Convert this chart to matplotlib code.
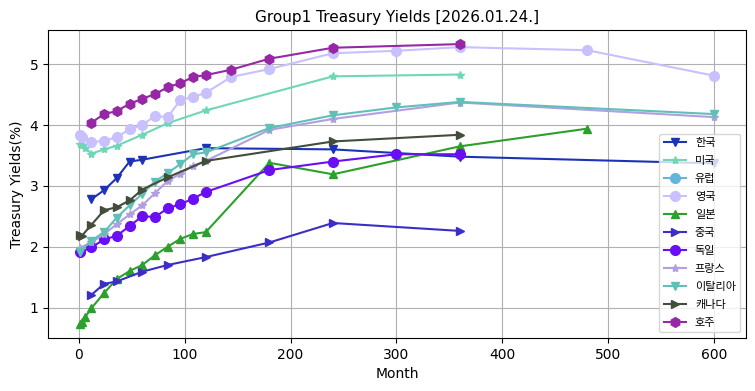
import matplotlib
matplotlib.use("Agg")
import matplotlib.pyplot as plt

plt.rcParams['font.family'] = ['DejaVu Sans', 'Noto Sans CJK KR']
plt.rcParams['axes.unicode_minus'] = False

labels = ['한국', '미국', '유럽', '영국', '일본', '중국', '독일', '프랑스', '이탈리아', '캐나다', '호주']

korea_m = [12, 24, 36, 48, 60, 120, 240, 360, 600]
korea_y = [2.78, 2.93, 3.13, 3.40, 3.43, 3.62, 3.60, 3.48, 3.37]

us_m = [1, 3, 6, 12, 24, 36, 60, 84, 120, 240, 360]
us_y = [3.69, 3.68, 3.63, 3.53, 3.60, 3.66, 3.84, 4.03, 4.24, 4.80, 4.83]

europe_m = []
europe_y = []

uk_m = [1, 3, 12, 24, 36, 48, 60, 72, 84, 96, 108, 120, 144, 180, 240, 300, 360, 480, 600]
uk_y = [3.83, 3.81, 3.72, 3.74, 3.80, 3.93, 4.00, 4.15, 4.13, 4.41, 4.46, 4.53, 4.79, 4.92, 5.18, 5.22, 5.28, 5.23, 4.81]

japan_m = [1, 3, 6, 12, 24, 36, 48, 60, 72, 84, 96, 108, 120, 180, 240, 360, 480]
japan_y = [0.73, 0.77, 0.84, 0.99, 1.24, 1.47, 1.60, 1.70, 1.86, 2.00, 2.13, 2.21, 2.24, 3.38, 3.19, 3.65, 3.94]

china_m = [12, 24, 36, 60, 84, 120, 180, 240, 360]
china_y = [1.21, 1.39, 1.43, 1.59, 1.70, 1.83, 2.07, 2.39, 2.26]

germany_m = [1, 12, 24, 36, 48, 60, 72, 84, 96, 108, 120, 180, 240, 300, 360]
germany_y = [1.91, 1.99, 2.12, 2.18, 2.34, 2.50, 2.49, 2.63, 2.70, 2.79, 2.90, 3.26, 3.40, 3.52, 3.52]

france_m = [1, 12, 24, 36, 48, 60, 72, 84, 96, 108, 120, 180, 240, 360, 600]
france_y = [1.98, 2.07, 2.21, 2.37, 2.53, 2.68, 2.88, 3.08, 3.20, 3.33, 3.41, 3.92, 4.10, 4.37, 4.13]

italy_m = [1, 12, 24, 36, 48, 60, 72, 84, 96, 108, 120, 180, 240, 300, 360, 600]
italy_y = [1.92, 2.10, 2.24, 2.48, 2.68, 2.87, 3.07, 3.21, 3.36, 3.52, 3.55, 3.95, 4.16, 4.29, 4.38, 4.18]

canada_m = [1, 3, 12, 24, 36, 48, 60, 84, 120, 240, 360]
canada_y = [2.20, 2.18, 2.36, 2.60, 2.65, 2.76, 2.94, 3.14, 3.41, 3.73, 3.84]

australia_m = [12, 24, 36, 48, 60, 72, 84, 96, 108, 120, 144, 180, 240, 360]
australia_y = [4.04, 4.18, 4.23, 4.35, 4.43, 4.51, 4.62, 4.69, 4.79, 4.82, 4.91, 5.09, 5.27, 5.33]

series = [
    (korea_m, korea_y, 'v', '#1c33b8'),
    (us_m, us_y, '*', '#70d6b8'),
    (europe_m, europe_y, 'o', '#62b6dc'),
    (uk_m, uk_y, 'o', '#c8c0ff'),
    (japan_m, japan_y, '^', '#2ca02c'),
    (china_m, china_y, '>', '#3b2ec8'),
    (germany_m, germany_y, 'o', '#6a0ef5'),
    (france_m, france_y, '*', '#b0a0e2'),
    (italy_m, italy_y, 'v', '#60c0b8'),
    (canada_m, canada_y, '>', '#434d3c'),
    (australia_m, australia_y, 'h', '#9628a6'),
]

fig = plt.figure(figsize=(7.55, 3.91), dpi=100)
ax = fig.add_axes([0.0636, 0.1355, 0.9244, 0.7875])

for (m, y, mk, c), lab in zip(series, labels):
    ms = 7 if mk in ('o', 'h') else 6
    ax.plot(m, y, marker=mk, color=c, label=lab, markersize=ms, linewidth=1.5)

ax.set_title('Group1 Treasury Yields [2026.01.24.]', fontsize=11)
ax.set_xlabel('Month', fontsize=10)
ax.set_ylabel('Treasury Yields(%)', fontsize=10)
ax.grid(True)
ax.set_xticks([0, 100, 200, 300, 400, 500, 600])
ax.set_yticks([1, 2, 3, 4, 5])
ax.legend(loc='lower right', fontsize=8, labelspacing=0.72)

fig.savefig('out.png', dpi=100)
